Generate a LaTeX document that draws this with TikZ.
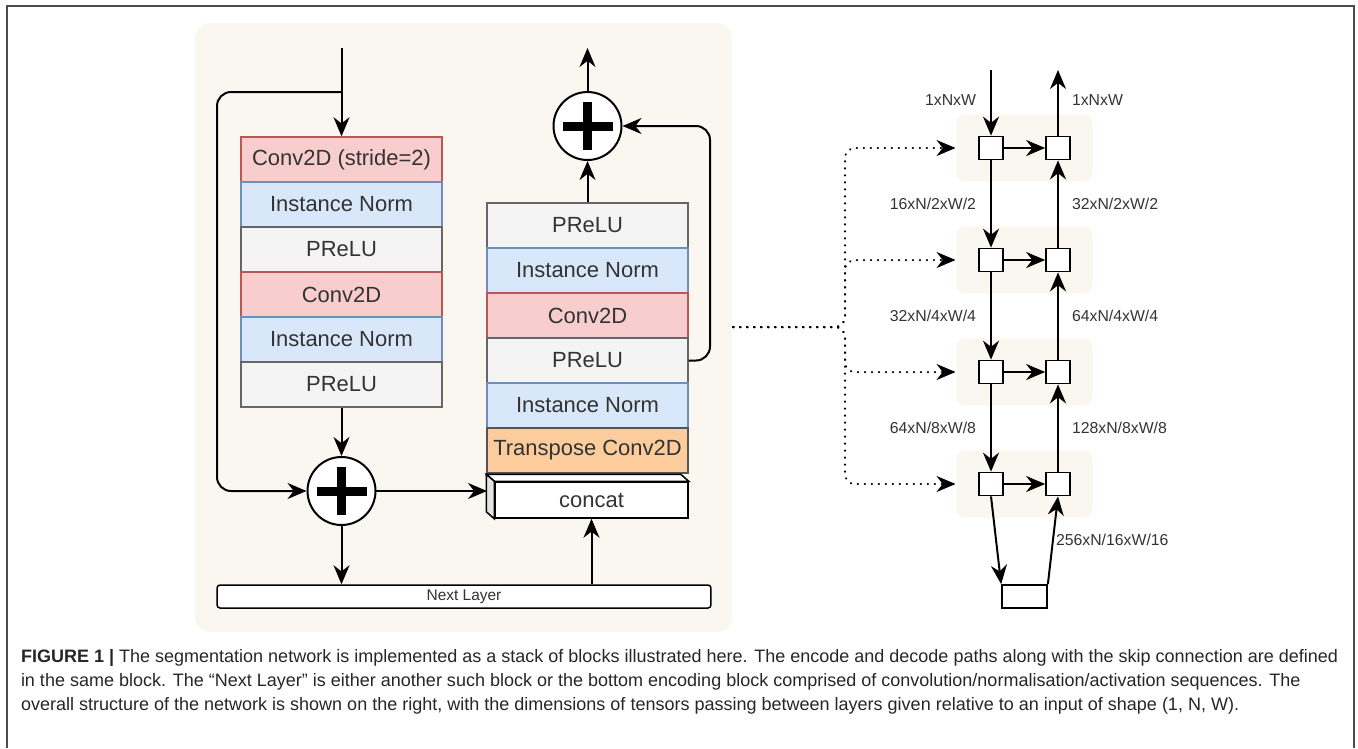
\documentclass[tikz,border=0pt]{standalone}
\usepackage{fontspec}
\setmainfont{Liberation Sans}
\usetikzlibrary{arrows.meta,calc,positioning}

\definecolor{panelbg}{RGB}{249,247,240}
\definecolor{convfill}{RGB}{247,206,205}
\definecolor{convline}{RGB}{184,88,84}
\definecolor{normfill}{RGB}{217,231,251}
\definecolor{normline}{RGB}{110,142,190}
\definecolor{relufill}{RGB}{244,244,244}
\definecolor{reluline}{RGB}{102,102,102}
\definecolor{tconvfill}{RGB}{252,204,156}
\definecolor{tconvline}{RGB}{85,85,85}
\definecolor{txtgray}{RGB}{51,51,51}

\begin{document}
\begin{tikzpicture}[x=0.02cm,y=-0.02cm,line width=0.04cm,
>={Stealth[length=0.38cm,width=0.32cm]},
blk/.style ={rectangle, draw, line width=0.03cm, minimum width=4.02cm, minimum height=0.9cm, inner sep=0pt, text=txtgray, font=\fontsize{12.5}{14}\selectfont},
conv/.style ={blk, draw=convline, fill=convfill},
norm/.style ={blk, draw=normline, fill=normfill},
relu/.style ={blk, draw=reluline, fill=relufill},
tconv/.style ={blk, draw=tconvline, fill=tconvfill},
addop/.style ={circle, draw, fill=white, line width=0.04cm, minimum size=1.36cm},
cell/.style ={rectangle, draw, fill=white, line width=0.035cm, minimum width=0.48cm, minimum height=0.46cm, inner sep=0pt},
tile/.style ={rectangle, fill=panelbg, rounded corners=0.16cm, minimum width=2.72cm, minimum height=1.34cm},
dims/.style ={inner sep=0pt, text=txtgray, font=\fontsize{9}{10}\selectfont},
skipline/.style ={->, line width=0.04cm, dash pattern=on 0.01cm off 0.13cm, line cap=round, rounded corners=0.2cm}
]
\useasboundingbox (0,0) rectangle (1358,748);
\draw[gray!60!black, line width=0.03cm] (7,748) -- (7,6) -- (1354,6) -- (1354,748);
\fill[panelbg, rounded corners=0.3cm] (195,23) rectangle (732,632);

% encode path
\draw (341.5,159.5) node[conv] (e1) {Conv2D (stride=2)};
\draw (341.5,204.5) node[norm] (e2) {Instance Norm};
\draw (341.5,249.5) node[relu] (e3) {PReLU};
\draw (341.5,294.5) node[conv] (e4) {Conv2D};
\draw (341.5,339.5) node[norm] (e5) {Instance Norm};
\draw (341.5,384.5) node[relu] (e6) {PReLU};
\draw (341.5,491) node[addop] (sumL) {};
\draw[line width=0.18cm] ($(sumL)+(-25,0)$) -- ($(sumL)+(25,0)$) ($(sumL)+(0,-24)$) -- ($(sumL)+(0,24)$);

% decode path
\draw (587.5,225.5) node[relu] (d1) {PReLU};
\draw (587.5,270.5) node[norm] (d2) {Instance Norm};
\draw (587.5,315.5) node[conv] (d3) {Conv2D};
\draw (587.5,360.5) node[relu] (d4) {PReLU};
\draw (587.5,405.5) node[norm] (d5) {Instance Norm};
\draw (587.5,450.5) node[tconv] (d6) {Transpose Conv2D};
\draw (587.5,126) node[addop] (sumR) {};
\draw[line width=0.18cm] ($(sumR)+(-25,0)$) -- ($(sumR)+(25,0)$) ($(sumR)+(0,-24)$) -- ($(sumR)+(0,24)$);

% concat box, drawn as a flat cube
\draw (591.5,500) node[rectangle, draw, fill=white, line width=0.03cm, minimum width=3.86cm, minimum height=0.72cm, inner sep=0pt, text=txtgray, font=\fontsize{12.5}{14}\selectfont] (concat) {concat};
\draw[fill=white, line width=0.03cm] (concat.north west) -- ++(-8,-7) -- ($(concat.north east)+(-8,-7)$) -- (concat.north east) -- cycle;
\draw[fill=gray!22, line width=0.03cm] (concat.north west) -- ++(-8,-7) -- ($(concat.south west)+(-8,-7)$) -- (concat.south west) -- cycle;
\draw (464,596.5) node[rectangle, draw, fill=white, rounded corners=0.06cm, line width=0.03cm, minimum width=9.88cm, minimum height=0.46cm, inner sep=0pt, text=txtgray, font=\fontsize{8.8}{10}\selectfont] (next) {Next Layer};

\coordinate (inL) at (341.5,48);
\coordinate (outL) at (587.5,48);
\coordinate (skip) at (217,92);
\coordinate (fb) at (710,126);
\coordinate (catside) at (487,491);
\draw[->] (inL) -- (e1);
\draw[->, rounded corners=0.28cm] (inL |- skip) -- (skip) |- (sumL.west);
\draw[->] (e6) -- (sumL);
\draw[->] (sumL.east) -- (catside);
\draw[->] (sumL.south) -- (sumL.south |- next.north);
\draw[->] (concat.south |- next.north) -- (concat.south);
\draw[->] (d1) -- (sumR);
\draw[->] (sumR) -- (outL);
\draw[->, rounded corners=0.28cm] (d4.east) -| (fb) -- (sumR.east);

% overall network
\draw (1024.5,148) node[tile] (t1) {};
\draw (1024.5,260) node[tile] (t2) {};
\draw (1024.5,372) node[tile] (t3) {};
\draw (1024.5,484) node[tile] (t4) {};
\draw (991,148) node[cell] (a1) {};
\draw (1058,148) node[cell] (b1) {};
\draw (991,260) node[cell] (a2) {};
\draw (1058,260) node[cell] (b2) {};
\draw (991,372) node[cell] (a3) {};
\draw (1058,372) node[cell] (b3) {};
\draw (991,484) node[cell] (a4) {};
\draw (1058,484) node[cell] (b4) {};
\draw (1024.5,596.5) node[cell, minimum width=0.9cm] (bott) {};

\coordinate (inR) at (991,70);
\coordinate (outR) at (1058,70);
\draw[->] (inR) -- (a1);
\draw[->] (b1) -- (outR);
\draw[->] (a1) -- (b1);
\draw[->] (a2) -- (b2);
\draw[->] (a3) -- (b3);
\draw[->] (a4) -- (b4);
\draw[->] (a1) -- (a2);
\draw[->] (a2) -- (a3);
\draw[->] (a3) -- (a4);
\draw[->] (b2) -- (b1);
\draw[->] (b3) -- (b2);
\draw[->] (b4) -- (b3);
\draw[->] (a4.south) -- (bott.north west);
\draw[->] (bott.north east) -- (b4.south);

\draw (977,100) node[dims, anchor=east] (l0) {1xNxW};
\draw (977,204) node[dims, anchor=east] (l1) {16xN/2xW/2};
\draw (977,316) node[dims, anchor=east] (l2) {32xN/4xW/4};
\draw (977,428) node[dims, anchor=east] (l3) {64xN/8xW/8};
\draw (1071,100) node[dims, anchor=west] (r0) {1xNxW};
\draw (1071,204) node[dims, anchor=west] (r1) {32xN/2xW/2};
\draw (1071,316) node[dims, anchor=west] (r2) {64xN/4xW/4};
\draw (1071,428) node[dims, anchor=west] (r3) {128xN/8xW/8};
\draw (1055,540) node[dims, anchor=west] (r4) {256xN/16xW/16};

% skip links to every level
\coordinate (src) at (733,327);
\coordinate (fork) at (845,327);
\draw[skipline] (src) -| (fork |- t1.west) -- (t1.west);
\draw[skipline] (src) -| (fork |- t2.west) -- (t2.west);
\draw[skipline] (src) -| (fork |- t3.west) -- (t3.west);
\draw[skipline] (src) -| (fork |- t4.west) -- (t4.west);

\draw (20,648) node[anchor=north west, align=left, inner sep=0pt, text=black!85, font=\fontsize{10.25}{13.9}\selectfont] (cap) {\textbf{FIGURE 1 |} The segmentation network is implemented as a stack of blocks illustrated here. The encode and decode paths along with the skip connection are defined\\ in the same block. The “Next Layer” is either another such block or the bottom encoding block comprised of convolution/normalisation/activation sequences. The\\ overall structure of the network is shown on the right, with the dimensions of tensors passing between layers given relative to an input of shape (1, N, W).};

\end{tikzpicture}
\end{document}
